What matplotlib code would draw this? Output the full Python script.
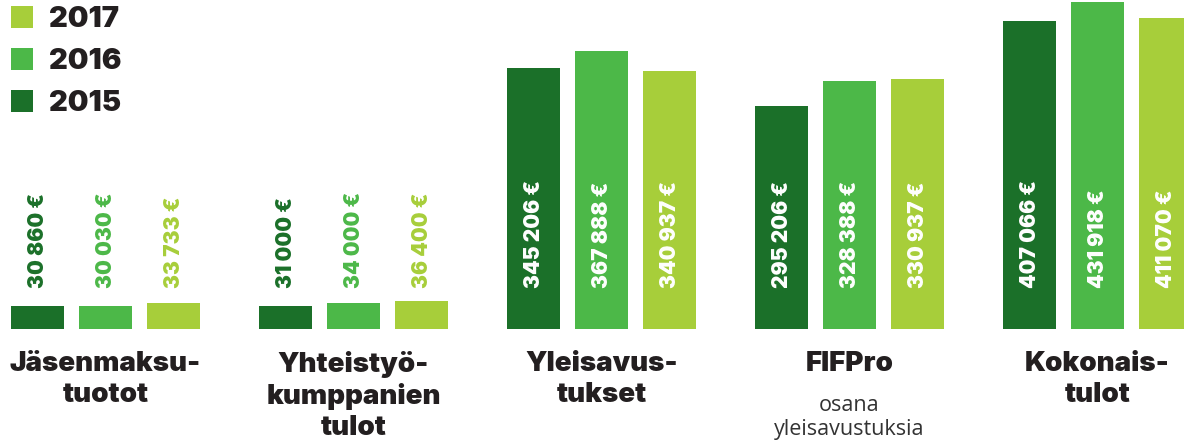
import matplotlib
matplotlib.use("Agg")
import matplotlib.pyplot as plt
from matplotlib.patches import Patch
import numpy as np

# ---- data ----
categories = ["Jäsenmaksu-\ntuotot", "Yhteistyö-\nkumppanien\ntulot", "Yleisavus-\ntukset", "FIFPro", "Kokonais-\ntulot"]
sublabels = ["", "", "", "osana\nyleisavustuksia", ""]
years = ["2015", "2016", "2017"]
v2015 = [30860, 31000, 345206, 295206, 407066]
v2016 = [30030, 34000, 367888, 328388, 431918]
v2017 = [33733, 36400, 340937, 330937, 411070]

colors = ["#1b7029", "#4cb848", "#a7ce3a"]
text_dark = "#231f20"

FONT = "Inter"

def fmt(v):
    return f"{v:,}".replace(",", " ") + " €"

fig = plt.figure(figsize=(11.84, 4.47), dpi=100)
ax = fig.add_axes([0, 0, 1, 1])

k = 7.56e-4          # px per euro
base_px = 329        # baseline pixel from top
H = 447
ax.set_ylim(-(H - base_px) / k, base_px / k)
group_px = 248.0
ax.set_xlim(-105.5 / group_px, (1184 - 105.5) / group_px)
ax.axis("off")

x = np.arange(len(categories))
step = 68 / group_px
width = 53 / group_px
series = [v2015, v2016, v2017]
for j, vals in enumerate(series):
    xs = x + (j - 1) * step
    ax.bar(xs, vals, width=width, color=colors[j], label=years[j], zorder=2)
    for xi, v in zip(xs, vals):
        inside = v > 100000
        ax.annotate(fmt(v), xy=(xi, 0), xytext=(0, 41), textcoords="offset pixels",
                    rotation=90, ha="center", va="bottom",
                    color="white" if inside else colors[j],
                    fontsize=15, fontweight="black", family=FONT, zorder=3)

for xi, cat, sub in zip(x, categories, sublabels):
    ax.annotate(cat, xy=(xi, 0), xytext=(0, -22), textcoords="offset pixels",
                ha="center", va="top", multialignment="center",
                fontsize=20, fontweight="black", family=FONT, color=text_dark,
                linespacing=1.24)
    if sub:
        ax.annotate(sub, xy=(xi, 0), xytext=(0, -66), textcoords="offset pixels",
                    ha="center", va="top", multialignment="center",
                    fontsize=15.5, fontweight="normal", family="Open Sans",
                    color="#333333", linespacing=1.2)

handles = [Patch(facecolor=c, edgecolor="none") for c in colors[::-1]]
leg = fig.legend(handles, years[::-1], loc="upper left", bbox_to_anchor=(11 / 1184, 1 - 6 / 447),
                 frameon=False, borderpad=0, borderaxespad=0,
                 handlelength=0.77, handleheight=0.77, handletextpad=0.55,
                 labelspacing=0.52,
                 prop={"family": FONT, "weight": "black", "size": 21})
for t in leg.get_texts():
    t.set_color(text_dark)

fig.savefig("out.png", dpi=100)
